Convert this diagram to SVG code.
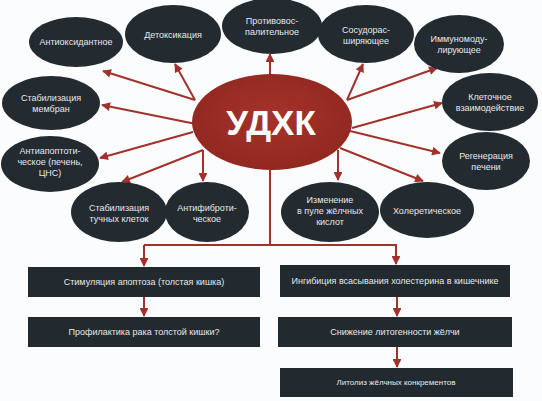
<svg xmlns="http://www.w3.org/2000/svg" width="542" height="401" viewBox="0 0 542 401">
<defs>
<marker id="ah" viewBox="0 0 10 10" refX="9" refY="5" markerWidth="4.8" markerHeight="4.4" orient="auto" markerUnits="strokeWidth">
<path d="M0,0 L10,5 L0,10 z" fill="#a3312b"/>
</marker>
<radialGradient id="rg" cx="0.5" cy="0.45" r="0.6">
<stop offset="0" stop-color="#a5332b"/>
<stop offset="1" stop-color="#90271f"/>
</radialGradient>
</defs>
<style>
.n{fill:#232b31}
.r{fill:#222a2f}
.t{font-family:"Liberation Sans",Arial,sans-serif;font-size:9px;fill:#e6e8ea;text-anchor:middle}
.c{stroke:#a3312b;stroke-width:2;fill:none}
.ca{stroke:#a3312b;stroke-width:2;fill:none;marker-end:url(#ah)}
</style>
<rect width="542" height="401" fill="#fbfcfd"/>
<g id="connectors">
<line class="ca" x1="195" y1="100" x2="103" y2="71"/>
<line class="ca" x1="195" y1="100" x2="175" y2="64"/>
<line class="ca" x1="270" y1="75" x2="270" y2="54"/>
<line class="ca" x1="347" y1="100" x2="363" y2="64"/>
<line class="ca" x1="347" y1="100" x2="437" y2="68"/>
<line class="ca" x1="352" y1="128" x2="442" y2="103"/>
<line class="ca" x1="350" y1="131" x2="440" y2="153"/>
<line class="ca" x1="340" y1="148" x2="423" y2="181"/>
<line class="ca" x1="338" y1="150" x2="338" y2="180"/>
<line class="ca" x1="203" y1="150" x2="203" y2="181"/>
<line class="ca" x1="203" y1="150" x2="122" y2="182"/>
<line class="ca" x1="193" y1="132" x2="100" y2="158"/>
<line class="ca" x1="196" y1="124" x2="102" y2="105"/>
<polyline class="c" points="270,170 270,245"/>
<polyline class="ca" points="144,245 144,266"/>
<polyline class="ca" points="270,245 396,245 396,264"/>
<line class="c" x1="144" y1="245" x2="270" y2="245"/>
<line class="ca" x1="144" y1="297" x2="144" y2="316"/>
<line class="ca" x1="397" y1="297" x2="397" y2="316"/>
<line class="ca" x1="397" y1="347" x2="397" y2="367"/>
</g>
<g id="udhk">
<ellipse cx="272" cy="122" rx="80" ry="48" fill="url(#rg)"/>
<text x="271" y="135" font-family="'Liberation Sans',Arial,sans-serif" font-size="35" font-weight="bold" fill="#ffffff" text-anchor="middle">УДХК</text>
</g>
<g id="n1"><ellipse class="n" cx="76" cy="42" rx="47" ry="25"/><text class="t" x="76" y="45">Антиоксидантное</text></g>
<g id="n2"><ellipse class="n" cx="173" cy="34" rx="48" ry="29"/><text class="t" x="173" y="38">Детоксикация</text></g>
<g id="n3"><ellipse class="n" cx="272" cy="26" rx="50" ry="28"/><text class="t" x="272" y="24">Противовос-</text><text class="t" x="272" y="35">палительное</text></g>
<g id="n4"><ellipse class="n" cx="366" cy="34" rx="48" ry="29"/><text class="t" x="366" y="33">Сосудорас-</text><text class="t" x="366" y="44">ширяющее</text></g>
<g id="n5"><ellipse class="n" cx="459" cy="44" rx="45" ry="29"/><text class="t" x="459" y="42">Иммуномоду-</text><text class="t" x="459" y="53">лирующее</text></g>
<g id="n6"><ellipse class="n" cx="490" cy="102" rx="48" ry="29"/><text class="t" x="490" y="100">Клеточное</text><text class="t" x="490" y="111">взаимодействие</text></g>
<g id="n7"><ellipse class="n" cx="486" cy="161" rx="44" ry="29"/><text class="t" x="486" y="159">Регенерация</text><text class="t" x="486" y="170">печени</text></g>
<g id="n8"><ellipse class="n" cx="427" cy="210" rx="47" ry="28"/><text class="t" x="427" y="214">Холеретическое</text></g>
<g id="n9"><ellipse class="n" cx="330" cy="212" rx="49" ry="30"/><text class="t" x="330" y="203">Изменение</text><text class="t" x="330" y="214">в пуле жёлчных</text><text class="t" x="330" y="225">кислот</text></g>
<g id="n10"><ellipse class="n" cx="207" cy="212" rx="42" ry="30"/><text class="t" x="207" y="211">Антифиброти-</text><text class="t" x="207" y="222">ческое</text></g>
<g id="n11"><ellipse class="n" cx="119" cy="212" rx="48" ry="30"/><text class="t" x="119" y="211">Стабилизация</text><text class="t" x="119" y="222">тучных клеток</text></g>
<g id="n12"><ellipse class="n" cx="50" cy="164" rx="49" ry="28"/><text class="t" x="50" y="154">Антиапоптоти-</text><text class="t" x="50" y="165">ческое (печень,</text><text class="t" x="50" y="176">ЦНС)</text></g>
<g id="n13"><ellipse class="n" cx="51" cy="103" rx="49" ry="27"/><text class="t" x="51" y="101">Стабилизация</text><text class="t" x="51" y="112">мембран</text></g>
<g id="b1"><rect class="r" x="28" y="267" width="232" height="30"/><text class="t" x="144" y="285">Стимуляция апоптоза (толстая кишка)</text></g>
<g id="b2"><rect class="r" x="28" y="317" width="232" height="30"/><text class="t" x="144" y="335">Профилактика рака толстой кишки?</text></g>
<g id="b3"><rect class="r" x="280" y="265" width="230" height="32"/><text class="t" x="395" y="284">Ингибиция всасывания холестерина в кишечнике</text></g>
<g id="b4"><rect class="r" x="278" y="317" width="234" height="30"/><text class="t" x="395" y="335">Снижение литогенности жёлчи</text></g>
<g id="b5"><rect class="r" x="280" y="368" width="233" height="29"/><text class="t" x="396" y="385" style="font-size:8px">Литолиз жёлчных конкрементов</text></g>
</svg>
